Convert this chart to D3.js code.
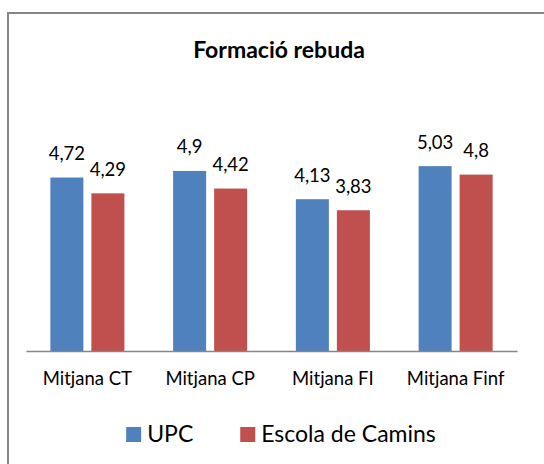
<!DOCTYPE html>
<html>
<head>
  <meta charset="utf-8">
  <title>Formació rebuda</title>
  <style>
    body { margin: 0; background: #fff; }
    svg text { font-family: Lato, "Open Sans", sans-serif; fill: #000; }
  </style>
</head>
<body>
  <svg width="544" height="464"></svg>
  <script src="https://cdnjs.cloudflare.com/ajax/libs/d3/7.8.5/d3.min.js"></script>
  <script>
    // dades
    const categories = ["Mitjana CT", "Mitjana CP", "Mitjana FI", "Mitjana Finf"];
    const seriesNames = ["UPC", "Escola de Camins"];
    const upcValues = [4.72, 4.9, 4.13, 5.03];
    const caminsValues = [4.29, 4.42, 3.83, 4.8];
    const seriesColors = ["#4F81BD", "#C0504D"];

    const rows = categories.map((c, i) => ({
      cat: c,
      vals: [
        { key: seriesNames[0], v: upcValues[i] },
        { key: seriesNames[1], v: caminsValues[i] }
      ]
    }));

    const svg = d3.select("svg");
    const margin = { left: 26, right: 27, top: 130.5, bottom: 113 };
    const width = +svg.attr("width");
    const height = +svg.attr("height");

    // marc del gràfic (només es veuen les vores esquerra i superior)
    svg.append("path")
       .attr("d", "M8,464 L8,13 L544,13")
       .attr("fill", "none")
       .attr("stroke", "#868686")
       .attr("stroke-width", 2);

    svg.append("text")
       .attr("x", 279)
       .attr("y", 57.5)
       .attr("text-anchor", "middle")
       .attr("font-size", 23)
       .attr("font-weight", "bold")
       .text("Formació rebuda");

    const x0 = d3.scaleBand()
                 .domain(categories)
                 .range([margin.left, width - margin.right])
                 .paddingInner(0)
                 .paddingOuter(0);

    const groupW = x0.bandwidth() * 0.603;
    const x1 = d3.scaleBand()
                 .domain(seriesNames)
                 .range([(x0.bandwidth() - groupW) / 2, (x0.bandwidth() + groupW) / 2])
                 .paddingInner(0.195);

    const y = d3.scaleLinear()
                .domain([0, 6])
                .range([height - margin.bottom, margin.top]);

    const color = d3.scaleOrdinal().domain(seriesNames).range(seriesColors);
    const fmt = v => String(v).replace(".", ",");

    const g = svg.selectAll("g.grup")
                 .data(rows)
                 .enter().append("g")
                 .attr("class", "grup")
                 .attr("transform", d => "translate(" + x0(d.cat) + ",0)");

    g.selectAll("rect")
     .data(d => d.vals)
     .enter().append("rect")
     .attr("x", d => x1(d.key))
     .attr("y", d => y(d.v))
     .attr("width", x1.bandwidth())
     .attr("height", d => y(0) - y(d.v))
     .attr("fill", d => color(d.key));

    g.selectAll("text.valor")
     .data(d => d.vals)
     .enter().append("text")
     .attr("class", "valor")
     .attr("x", d => x1(d.key) + x1.bandwidth() / 2)
     .attr("y", d => y(d.v) - 17.5)
     .attr("text-anchor", "middle")
     .attr("font-size", 18.5)
     .text(d => fmt(d.v));

    const xAxis = d3.axisBottom(x0).tickSize(0).tickPadding(21);
    const ax = svg.append("g")
                  .attr("transform", "translate(0," + y(0) + ")")
                  .call(xAxis);
    ax.select(".domain").attr("stroke", "#868686").attr("stroke-width", 1.5);
    ax.selectAll("text")
      .attr("font-family", "Lato, 'Open Sans', sans-serif")
      .attr("font-size", 18.5)
      .attr("fill", "#000");

    // llegenda
    const legend = svg.append("g").attr("transform", "translate(0,427)");
    const items = legend.selectAll("g")
                        .data(seriesNames)
                        .enter().append("g");
    items.append("rect")
         .attr("width", 15)
         .attr("height", 15)
         .attr("fill", d => color(d));
    items.append("text")
         .attr("x", 21)
         .attr("y", 15)
         .attr("font-size", 23)
         .text(d => d);

    // col·locar els elements centrats
    let widths = [];
    items.each(function () { widths.push(this.getBBox().width); });
    const gap = 47;
    const total = d3.sum(widths) + gap * (widths.length - 1);
    let cx = 281 - total / 2;
    items.attr("transform", (d, i) => {
      const t = "translate(" + cx + ",0)";
      cx += widths[i] + gap;
      return t;
    });
  </script>
</body>
</html>
